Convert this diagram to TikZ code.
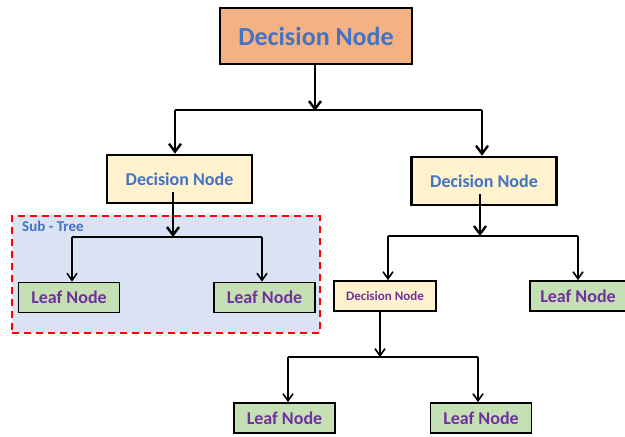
\documentclass[tikz,border=0pt]{standalone}
\usepackage{fontspec}
\setmainfont{Carlito}
\usetikzlibrary{arrows.meta}
\definecolor{topfill}{HTML}{F4B183}
\definecolor{decfill}{HTML}{FFF2CC}
\definecolor{leaffill}{HTML}{C5E0B4}
\definecolor{subfill}{HTML}{DAE3F3}
\definecolor{txtblue}{HTML}{4472C4}
\definecolor{txtpurple}{HTML}{7030A0}
\tikzset{
  box/.style={draw=black, rectangle, inner sep=0pt, font=\bfseries},
  topbox/.style={box, fill=topfill, line width=2.6pt, text=txtblue, minimum width=192pt, minimum height=56pt, font=\bfseries\fontsize{26}{28}\selectfont},
  decbox/.style={box, fill=decfill, line width=2.6pt, text=txtblue, minimum width=145pt, minimum height=48pt, font=\bfseries\fontsize{18}{20}\selectfont},
  smalldec/.style={box, fill=decfill, line width=1.8pt, text=txtpurple, minimum width=102pt, minimum height=30pt, font=\bfseries\fontsize{13}{15}\selectfont},
  leafbox/.style={box, fill=leaffill, line width=1.8pt, text=txtpurple, minimum width=101pt, minimum height=30pt, font=\bfseries\fontsize{18}{20}\selectfont},
  conn/.style={line width=1.6pt, -{Straight Barb[length=7pt,width=10pt,line width=1.6pt]}},
  thickconn/.style={line width=2.6pt, -{Straight Barb[length=8pt,width=12pt,line width=2.4pt]}},
  plain/.style={line width=1.6pt},
}
\begin{document}
\begin{tikzpicture}[x=1pt,y=-1pt]
\useasboundingbox (0,0) rectangle (625,437);
% subtree background
\node[draw=red, dashed, line width=1.8pt, dash pattern=on 7pt off 5pt, fill=subfill, rectangle, minimum width=308pt, minimum height=117pt, inner sep=0pt] (sub) at (166,274.5) {};
\node[anchor=west, text=txtblue, font=\bfseries\fontsize{15}{17}\selectfont, inner sep=0pt] (sublabel) at (22,226) {Sub - Tree};

\node[topbox] (top) at (316,36) {Decision Node};
\node[decbox] (dl) at (179.5,179) {Decision Node};
\node[decbox] (dr) at (484,181) {Decision Node};
\node[leafbox] (l1) at (69,297.5) {Leaf Node};
\node[leafbox] (l2) at (264.5,297.5) {Leaf Node};
\node[smalldec] (ds) at (385,296) {Decision Node};
\node[leafbox, minimum width=96pt] (lr) at (578,296) {Leaf Node};
\node[leafbox] (b1) at (284.5,418) {Leaf Node};
\node[leafbox] (b2) at (481,418) {Leaf Node};

% junction coordinates
\coordinate (j0) at (315,110);
\coordinate (j1) at (173,237);
\coordinate (j2) at (480,236);
\coordinate (j3) at (380,357);

% top
\draw[thickconn, shorten >=-1pt] ([xshift=-1pt]top.south) -- (j0);
\draw[plain, line width=2.2pt] (175,110) -- (482,110);
\draw[thickconn] (175,110) -- (dl.north -| 175,0);
\draw[thickconn] (482,110) -- (dr.north -| 482,0);

% left subtree
\draw[thickconn] (dl.center -| j1) ++(0,13) -- (j1);
\draw[plain] (72,237) -- (262,237);
\draw[conn] (72,237) -- (l1.north -| 72,0);
\draw[conn] (262,237) -- (l2.north -| 262,0);

% right subtree
\draw[thickconn] (dr.center -| j2) ++(0,13) -- (j2);
\draw[plain] (388,236) -- (578,236);
\draw[conn] (388,236) -- (ds.north -| 388,0);
\draw[conn] (578,236) -- (lr.north -| 578,0);

% bottom
\draw[conn] (ds.south -| j3) -- (j3);
\draw[plain] (288,357) -- (478,357);
\draw[conn] (288,357) -- (b1.north -| 288,0);
\draw[conn] (478,357) -- (b2.north -| 478,0);
\end{tikzpicture}
\end{document}
